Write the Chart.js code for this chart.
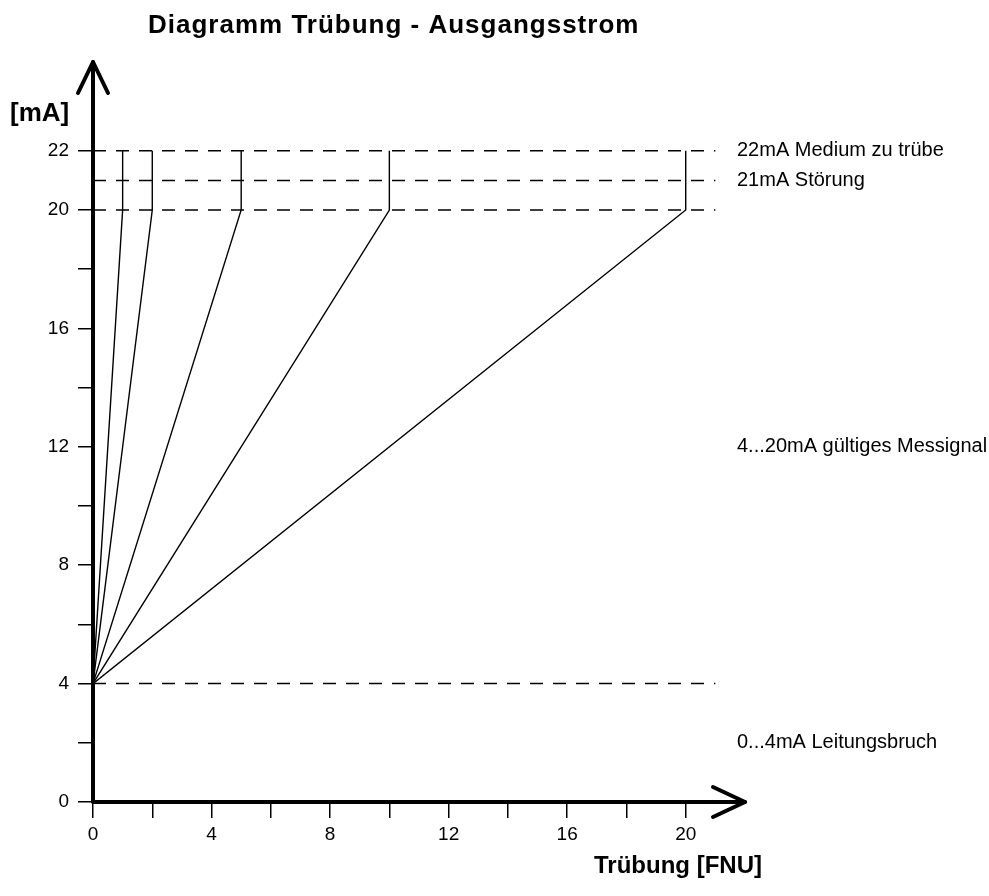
<!DOCTYPE html>
<html>
<head>
<meta charset="utf-8">
<script src="https://cdn.jsdelivr.net/npm/chart.js@4.4.0/dist/chart.umd.min.js"></script>
<style>
    html, body { margin: 0; padding: 0; background: #fff; }
    #wrap { width: 989px; height: 896px; }
</style>
</head>
<body>
<div id="wrap"><canvas id="chart" width="989" height="896"></canvas></div>
<script>
// Chart values
const fullScaleFNU = [1, 2, 5, 10, 20];      // measuring ranges, 20mA reached at these FNU
const startCurrent = 4;                     // mA at 0 FNU
const endCurrent = 20;                      // mA at full scale
const alarmCurrent = 22;                    // vertical jumps go up to here
const dashedLevels = [22, 21, 20, 4];       // mA
const dashedEndFNU = 21;
const xTickLabels = [0, 4, 8, 12, 16, 20];
const yTickLabels = [0, 4, 8, 12, 16, 20, 22];
const sideLabelLevels = [22, 21, 12, 2];
const sideLabelTexts = ['22mA Medium zu trübe', '21mA Störung', '4...20mA gültiges Messignal', '0...4mA Leitungsbruch'];

const FONT = '"Liberation Sans", Arial, Helvetica, sans-serif';

// Build datasets
const datasets = [];
fullScaleFNU.forEach(fnu => {
    datasets.push({
        data: [
            { x: 0, y: startCurrent },
            { x: fnu, y: endCurrent },
            { x: fnu, y: alarmCurrent }
        ],
        borderColor: '#000',
        borderWidth: 1.4,
        pointRadius: 0,
        showLine: true,
        fill: false
    });
});
dashedLevels.forEach(level => {
    datasets.push({
        data: [{ x: 0, y: level }, { x: dashedEndFNU, y: level }],
        borderColor: '#000',
        borderWidth: 1.5,
        borderDash: [13, 10],
        pointRadius: 0,
        showLine: true,
        fill: false
    });
});

// Axes with arrows and free text
const decorations = {
    id: 'decorations',
    afterDatasetsDraw(chart) {
        const ctx = chart.ctx;
        const xs = chart.scales.x;
        const ys = chart.scales.y;
        const x0 = xs.getPixelForValue(0);
        const y0 = ys.getPixelForValue(0);
        const xEnd = xs.getPixelForValue(xs.max);
        const yEnd = ys.getPixelForValue(ys.max);

        ctx.save();
        ctx.strokeStyle = '#000';
        ctx.lineWidth = 4;
        ctx.lineCap = 'round';
        ctx.lineJoin = 'round';

        // axis lines
        ctx.beginPath();
        ctx.moveTo(x0, y0);
        ctx.lineTo(x0, yEnd);
        ctx.moveTo(x0, y0);
        ctx.lineTo(xEnd, y0);
        ctx.stroke();

        // arrow heads
        ctx.beginPath();
        ctx.moveTo(x0 - 15, yEnd + 31);
        ctx.lineTo(x0, yEnd);
        ctx.lineTo(x0 + 15, yEnd + 31);
        ctx.moveTo(xEnd - 32, y0 - 15);
        ctx.lineTo(xEnd, y0);
        ctx.lineTo(xEnd - 32, y0 + 15);
        ctx.stroke();

        // texts
        ctx.fillStyle = '#000';
        ctx.textBaseline = 'middle';
        ctx.textAlign = 'left';
        ctx.font = 'bold 26px ' + FONT;
        ctx.letterSpacing = '1px';
        ctx.fillText('Diagramm Trübung - Ausgangsstrom', 148, 26);
        ctx.letterSpacing = '0px';
        ctx.fillText('[mA]', 10, 114);
        ctx.font = 'bold 24px ' + FONT;
        ctx.textAlign = 'center';
        ctx.fillText('Trübung [FNU]', 678, 866);

        ctx.font = '20px ' + FONT;
        ctx.textAlign = 'left';
        sideLabelLevels.forEach((lvl, i) => {
            ctx.fillText(sideLabelTexts[i], 737, ys.getPixelForValue(lvl));
        });
        ctx.restore();
    }
};

const tickColor = limit => c => (c.tick && c.tick.value <= limit ? '#000' : 'rgba(0,0,0,0)');

new Chart(document.getElementById('chart').getContext('2d'), {
    type: 'scatter',
    data: { datasets: datasets },
    options: {
        responsive: false,
        animation: false,
        events: [],
        layout: { padding: { left: 0, top: 62, right: 244, bottom: 0 } },
        plugins: {
            legend: { display: false },
            tooltip: { enabled: false }
        },
        scales: {
            x: {
                type: 'linear',
                min: 0,
                max: 22,
                afterFit: scale => { scale.height = 94; },
                border: { display: false },
                grid: {
                    drawOnChartArea: false,
                    drawTicks: true,
                    tickLength: 16,
                    lineWidth: 1.5,
                    color: tickColor(20)
                },
                ticks: {
                    stepSize: 2,
                    autoSkip: false,
                    maxRotation: 0,
                    padding: 5,
                    color: '#000',
                    font: { family: FONT, size: 19 },
                    callback: v => (xTickLabels.includes(v) ? String(v) : '')
                }
            },
            y: {
                type: 'linear',
                min: 0,
                max: 25,
                afterFit: scale => { scale.width = 93; },
                border: { display: false },
                grid: {
                    drawOnChartArea: false,
                    drawTicks: true,
                    tickLength: 15,
                    lineWidth: 1.5,
                    color: tickColor(22)
                },
                ticks: {
                    stepSize: 2,
                    autoSkip: false,
                    padding: 9,
                    color: '#000',
                    font: { family: FONT, size: 19 },
                    callback: v => (yTickLabels.includes(v) ? String(v) : '')
                }
            }
        }
    },
    plugins: [decorations]
});
</script>
</body>
</html>
